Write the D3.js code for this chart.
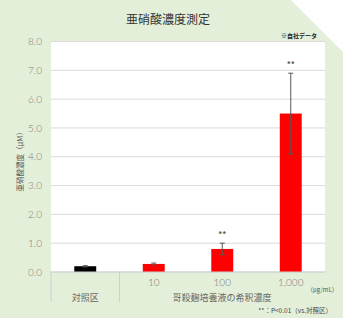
<!DOCTYPE html>
<html>
<head>
<meta charset="utf-8">
<script src="https://cdn.jsdelivr.net/npm/d3@7"></script>
<style>
  body { margin: 0; background: #fff; }
  svg { display: block; font-family: "Noto Sans CJK JP", "Noto Sans", sans-serif; }
</style>
</head>
<body>
<svg id="chart" width="343" height="318"></svg>
<script>
const categories = ["対照区", "10", "100", "1,000"]
const values = [0.2, 0.28, 0.8, 5.5]
const errors = [0.02, 0.03, 0.2, 1.4]
const signif = ["", "", "**", "**"]
const barColors = ["#000000", "#ff0000", "#ff0000", "#ff0000"]
const yTicks = [0, 1, 2, 3, 4, 5, 6, 7, 8]

const svg = d3.select("#chart")
const plotL = 51, plotR = 325, plotT = 41.5, plotB = 272

// background with cut corner
svg.append("path")
    .attr("d", "M0,0 L291,0 L343,52 L343,318 L0,318 Z")
    .attr("fill", "#e3efd9")

// plot area
svg.append("rect")
    .attr("x", plotL).attr("y", plotT)
    .attr("width", plotR - plotL).attr("height", plotB - plotT)
    .attr("fill", "#fff")

let x = d3.scaleBand().domain(categories).range([plotL, plotR]).paddingInner(0.68).paddingOuter(0.34)
let y = d3.scaleLinear().domain([0, 8]).range([plotB, plotT])

// grid
svg.append("g").selectAll("line")
    .data(yTicks)
    .enter().append("line")
    .attr("x1", plotL).attr("x2", plotR)
    .attr("y1", d => y(d)).attr("y2", d => y(d))
    .attr("stroke", "#d9d9d9").attr("stroke-width", 1)

// y axis labels
let y_axis = d3.axisLeft(y).tickValues(yTicks).tickFormat(d3.format(".1f")).tickSize(0).tickPadding(9)
let yg = svg.append("g").attr("transform", `translate(${plotL},0)`).call(y_axis)
yg.select(".domain").remove()
yg.selectAll("text").attr("fill", "#808080").style("font-size", "10px").style("font-family", "Lato, 'Noto Sans', sans-serif").style("font-weight", "300")

// bars
svg.append("g").selectAll("rect")
    .data(values)
    .enter().append("rect")
    .attr("x", (d, i) => x(categories[i]))
    .attr("y", d => y(d))
    .attr("width", x.bandwidth())
    .attr("height", d => y(0) - y(d))
    .attr("fill", (d, i) => barColors[i])

// error bars
let eg = svg.append("g").attr("stroke", "#595959").attr("stroke-width", 1)
values.forEach(function (d, i) {
    let cx = x(categories[i]) + x.bandwidth() / 2
    let cap = 2.5
    eg.append("line").attr("x1", cx).attr("x2", cx).attr("y1", y(d + errors[i])).attr("y2", y(d - errors[i]))
    eg.append("line").attr("x1", cx - cap).attr("x2", cx + cap).attr("y1", y(d + errors[i])).attr("y2", y(d + errors[i]))
    eg.append("line").attr("x1", cx - cap).attr("x2", cx + cap).attr("y1", y(d - errors[i])).attr("y2", y(d - errors[i]))
    if (signif[i]) {
        svg.append("text")
            .attr("x", cx).attr("y", y(d + errors[i]) - 6)
            .attr("text-anchor", "middle")
            .attr("fill", "#555").style("font-size", "8px").style("font-weight", "bold")
            .text(signif[i])
    }
})

// x axis line
svg.append("line").attr("x1", plotL).attr("x2", plotR).attr("y1", plotB).attr("y2", plotB)
    .attr("stroke", "#d0d0d0")

// category separators
let sep = [plotL, x(categories[1]) - x.step() * x.paddingInner() / 2]
svg.append("g").selectAll("line")
    .data(sep)
    .enter().append("line")
    .attr("x1", d => d).attr("x2", d => d)
    .attr("y1", plotB).attr("y2", 302)
    .attr("stroke", "#cfcfcf")

// category labels
categories.slice(1).forEach(function (c) {
    svg.append("text")
        .attr("x", x(c) + x.bandwidth() / 2).attr("y", 286)
        .attr("text-anchor", "middle")
        .attr("fill", "#777").style("font-size", "10px")
        .style("font-family", "Lato, 'Noto Sans', sans-serif").style("font-weight", "300")
        .text(c)
})
svg.append("text")
    .attr("x", x(categories[0]) + x.bandwidth() / 2).attr("y", 301)
    .attr("text-anchor", "middle")
    .attr("fill", "#666").style("font-size", "9px")
    .text(categories[0])
svg.append("text")
    .attr("x", 222).attr("y", 301)
    .attr("text-anchor", "middle")
    .attr("fill", "#666").style("font-size", "9px")
    .text("哥殺麹培養液の希釈濃度")
svg.append("text")
    .attr("x", 307).attr("y", 292)
    .attr("text-anchor", "start")
    .attr("fill", "#555").style("font-size", "6px")
    .text("（μg/mL）")
svg.append("text")
    .attr("x", 332).attr("y", 313)
    .attr("text-anchor", "end")
    .attr("fill", "#444").style("font-size", "6.5px")
    .text("**：P<0.01（vs.対照区）")

// y label
svg.append("text")
    .attr("transform", `translate(23,${(plotT + plotB) / 2 + 3}) rotate(270)`)
    .attr("text-anchor", "middle")
    .attr("fill", "#555").style("font-size", "7.5px")
    .text("亜硝酸濃度（μM）")

// title
svg.append("text")
    .attr("x", 168).attr("y", 24)
    .attr("text-anchor", "middle")
    .attr("fill", "#333").style("font-size", "12px")
    .text("亜硝酸濃度測定")

svg.append("text")
    .attr("x", 317).attr("y", 38)
    .attr("text-anchor", "end")
    .attr("fill", "#222").style("font-size", "6px").style("font-weight", "bold")
    .text("※自社データ")
</script>
</body>
</html>
